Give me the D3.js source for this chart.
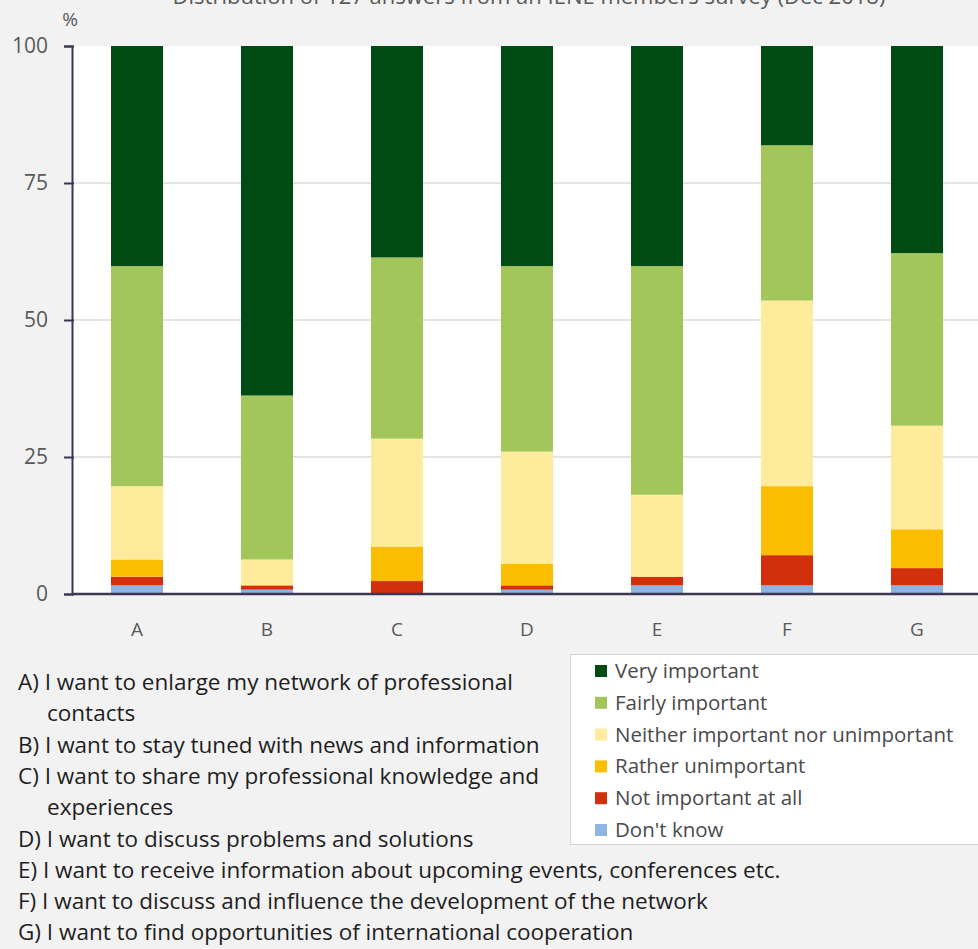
<!DOCTYPE html>
<html>
<head>
<meta charset="utf-8">
<script src="https://cdn.jsdelivr.net/npm/d3@7"></script>
<style>
  html, body { margin: 0; padding: 0; background: #f2f2f2; }
  svg { display: block; font-family: "Open Sans", Lato, sans-serif; }
</style>
</head>
<body>
<svg id="chart" width="978" height="949"></svg>
<script>
// Survey statements (bar categories)
const categories = ["A", "B", "C", "D", "E", "F", "G"];
const totalAnswers = 127;

// Answer counts per statement, one array per response level
const dontKnow          = [2, 1, 0, 1, 2, 2, 2];
const notImportant      = [2, 1, 3, 1, 2, 7, 4];
const ratherUnimportant = [4, 0, 8, 5, 0, 16, 9];
const neither           = [17, 6, 25, 26, 19, 43, 24];
const fairlyImportant   = [51, 38, 42, 43, 53, 36, 40];
const veryImportant     = [51, 81, 49, 51, 51, 23, 48];

const seriesNames = ["Don't know", "Not important at all", "Rather unimportant",
  "Neither important nor unimportant", "Fairly important", "Very important"];
const seriesColors = ["#8db4e2", "#d2300c", "#fbbd00", "#ffeb9c", "#a3c65a", "#004a13"];
const seriesValues = [dontKnow, notImportant, ratherUnimportant, neither, fairlyImportant, veryImportant];

const yTicks = [0, 25, 50, 75, 100];

const statements = [
  ["A) I want to enlarge my network of professional", "contacts"],
  ["B) I want to stay tuned with news and information"],
  ["C) I want to share my professional knowledge and", "experiences"],
  ["D) I want to discuss problems and solutions"],
  ["E) I want to receive information about upcoming events, conferences etc."],
  ["F) I want to discuss and influence the development of the network"],
  ["G) I want to find opportunities of international cooperation"]
];

const title = "Distribution of 127 answers from an IENE members survey (Dec 2018)";

// Table for stacking: percentages of all answers
const table = categories.map((c, i) => {
  const row = { cat: c };
  seriesNames.forEach((s, k) => { row[s] = seriesValues[k][i] / totalAnswers * 100; });
  return row;
});

const svg = d3.select("#chart");
const plot = { left: 72, right: 982, top: 46, bottom: 594 };

const x = d3.scaleBand().domain(categories).range([plot.left, plot.right]).paddingInner(0.6).paddingOuter(0.3);
const y = d3.scaleLinear().domain([0, 100]).range([plot.bottom, plot.top]);
const color = d3.scaleOrdinal().domain(seriesNames).range(seriesColors);

// Plot area background
svg.append("rect").attr("x", plot.left).attr("y", plot.top)
  .attr("width", plot.right - plot.left).attr("height", plot.bottom - plot.top)
  .attr("fill", "#ffffff");

// Gridlines
svg.append("g").selectAll("line").data(yTicks.filter(t => t > 0 && t < 100)).join("line")
  .attr("x1", plot.left).attr("x2", plot.right)
  .attr("y1", d => y(d)).attr("y2", d => y(d))
  .attr("stroke", "#dcdcdc").attr("stroke-width", 1.5);

// Title (sits at the very top edge of the page)
svg.append("text").attr("x", 529).attr("y", 4).attr("text-anchor", "middle")
  .attr("font-size", 22).attr("fill", "#595959").text(title);

// Stacked bars
const stack = d3.stack().keys(seriesNames)(table);
svg.append("g").selectAll("g").data(stack).join("g")
  .attr("fill", d => color(d.key))
  .selectAll("rect").data(d => d).join("rect")
  .attr("x", d => x(d.data.cat))
  .attr("width", x.bandwidth())
  .attr("y", d => y(d[1]))
  .attr("height", d => y(d[0]) - y(d[1]));

// Y axis
const yAxis = svg.append("g").attr("transform", `translate(${plot.left},0)`)
  .call(d3.axisLeft(y).tickValues(yTicks).tickSize(8).tickPadding(16));
yAxis.select(".domain").attr("stroke", "#3d3650").attr("stroke-width", 2);
yAxis.selectAll(".tick line").attr("stroke", "#3d3650").attr("stroke-width", 2).attr("x2", -8).attr("x1", 2);
yAxis.selectAll(".tick text").attr("font-size", 21).attr("fill", "#595959").attr("font-family", "'Open Sans', sans-serif");

svg.append("text").attr("x", 70).attr("y", 26).attr("text-anchor", "middle")
  .attr("font-size", 19).attr("fill", "#595959").text("%");

// X axis
const xAxis = svg.append("g").attr("transform", `translate(0,${plot.bottom})`)
  .call(d3.axisBottom(x).tickSize(0).tickPadding(29));
xAxis.select(".domain").attr("stroke", "#3d3650").attr("stroke-width", 2.5)
  .attr("d", `M${plot.left},0H${plot.right}`);
xAxis.selectAll(".tick text").attr("font-size", 19).attr("fill", "#595959").attr("font-family", "'Open Sans', sans-serif");

// Legend
const legend = svg.append("g");
legend.append("rect").attr("x", 570.5).attr("y", 654.5).attr("width", 420).attr("height", 190)
  .attr("fill", "#ffffff").attr("stroke", "#d4d4d4");
const legendOrder = seriesNames.slice().reverse();
const li = legend.selectAll("g").data(legendOrder).join("g")
  .attr("transform", (d, i) => `translate(595,${671 + i * 31.8})`);
li.append("rect").attr("x", 0).attr("y", -6).attr("width", 12).attr("height", 12).attr("fill", d => color(d));
li.append("text").attr("x", 20).attr("y", 7).attr("font-size", 20.5).attr("fill", "#4a4a4a").text(d => d);

// Statement descriptions
const lines = [];
statements.forEach(s => s.forEach((t, j) => lines.push({ t, indent: j > 0 })));
svg.append("g").selectAll("text").data(lines).join("text")
  .attr("x", d => d.indent ? 47 : 18)
  .attr("y", (d, i) => 690 + i * 31.3)
  .attr("font-size", 22.5).attr("fill", "#1e1e1e")
  .text(d => d.t);
</script>
</body>
</html>
